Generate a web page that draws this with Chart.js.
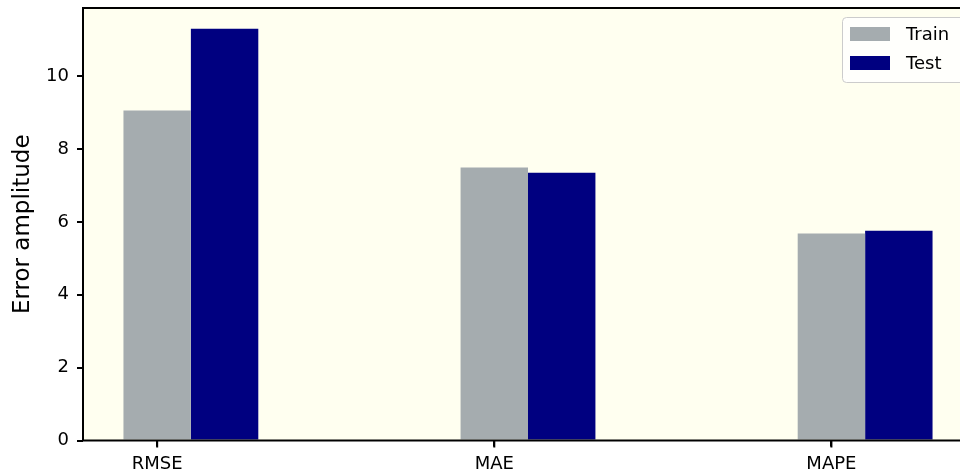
<!DOCTYPE html>
<html>
<head>
<meta charset="utf-8">
<script src="https://cdn.jsdelivr.net/npm/chart.js@4/dist/chart.umd.min.js"></script>
<style>
  html, body { margin: 0; padding: 0; background: #fff; overflow: hidden; }
  #wrap { width: 973px; height: 474px; position: relative; }
</style>
</head>
<body>
<div id="wrap"><canvas id="errChart"></canvas></div>
<script>
const categories = ['RMSE', 'MAE', 'MAPE'];
const trainValues = [9.06, 7.49, 5.68];
const testValues = [11.30, 7.35, 5.76];
const yTicks = [0, 2, 4, 6, 8, 10];

const FONT = "'DejaVu Sans', sans-serif";

// matplotlib-style bars: train centred on the tick, test just to its right
function toPoints(values) {
  return values.map((v, i) => ({ x: i + 0.1, y: v }));
}

const axesBox = {
  id: 'axesBox',
  beforeDraw(chart) {
    const a = chart.chartArea, ctx = chart.ctx;
    ctx.save();
    ctx.fillStyle = '#fffff0';
    ctx.fillRect(a.left, a.top, a.right - a.left, a.bottom - a.top);
    ctx.restore();
  },
  afterDraw(chart) {
    const a = chart.chartArea, ctx = chart.ctx;
    const xs = chart.scales.x;
    ctx.save();
    ctx.strokeStyle = '#000';
    ctx.lineWidth = 2;
    ctx.strokeRect(a.left, a.top, a.right - a.left, a.bottom - a.top);

    // x tick marks under each category
    ctx.fillStyle = '#000';
    categories.forEach((c, i) => {
      const px = xs.getPixelForValue(i);
      ctx.fillRect(px - 1, a.bottom, 2, 7);
    });

    // legend inside the axes, upper right
    const sets = chart.data.datasets;
    const boxW = 124, boxH = 65;
    const x0 = a.right - 7 - boxW, y0 = a.top + 9;
    ctx.fillStyle = 'rgba(255,255,255,0.8)';
    ctx.strokeStyle = '#cccccc';
    ctx.lineWidth = 1;
    ctx.beginPath();
    ctx.roundRect(x0 + 0.5, y0 + 0.5, boxW, boxH, 4);
    ctx.fill();
    ctx.stroke();
    ctx.font = '18px ' + FONT;
    ctx.textBaseline = 'middle';
    sets.forEach((ds, i) => {
      const cy = y0 + 17 + i * 29;
      ctx.fillStyle = ds.backgroundColor;
      ctx.fillRect(x0 + 8, cy - 7, 40, 14);
      ctx.fillStyle = '#000';
      ctx.fillText(ds.label, x0 + 64, cy + 1);
    });
    ctx.restore();
  }
};

new Chart(document.getElementById('errChart'), {
  type: 'bar',
  data: {
    datasets: [
      { label: 'Train', data: toPoints(trainValues), backgroundColor: '#a5acaf' },
      { label: 'Test', data: toPoints(testValues), backgroundColor: '#000080' }
    ]
  },
  options: {
    responsive: true,
    maintainAspectRatio: false,
    animation: false,
    categoryPercentage: 0.4,
    barPercentage: 1.0,
    layout: { padding: { top: 8, right: 0, left: 0, bottom: 0 } },
    plugins: {
      legend: { display: false },
      tooltip: { enabled: false }
    },
    scales: {
      x: {
        type: 'linear',
        offset: false,
        min: -0.22,
        max: 2.42,
        afterBuildTicks(scale) {
          scale.ticks = categories.map((c, i) => ({ value: i }));
        },
        afterFit(scale) {
          scale.height = 33.5;
          scale.paddingLeft = 0;
          scale.paddingRight = 0;
        },
        grid: { display: true, offset: false, drawOnChartArea: false, drawTicks: true, tickLength: 6, color: '#000', lineWidth: 2 },
        border: { display: false },
        ticks: {
          color: '#000',
          font: { family: FONT, size: 18 },
          padding: 7,
          maxRotation: 0,
          autoSkip: false,
          callback: value => categories[value]
        }
      },
      y: {
        min: 0,
        max: 11.87,
        afterBuildTicks(scale) {
          scale.ticks = yTicks.map(v => ({ value: v }));
        },
        afterFit(scale) {
          scale.width = 83;
          scale.paddingTop = 0;
          scale.paddingBottom = 0;
        },
        grid: { display: true, drawOnChartArea: false, drawTicks: true, tickLength: 6, color: '#000', lineWidth: 2 },
        border: { display: false },
        ticks: {
          color: '#000',
          font: { family: FONT, size: 18 },
          padding: 8
        },
        title: {
          display: true,
          text: 'Error amplitude',
          color: '#000',
          font: { family: FONT, size: 23 },
          padding: { top: 9, bottom: 0 }
        }
      }
    }
  },
  plugins: [axesBox]
});
</script>
</body>
</html>
